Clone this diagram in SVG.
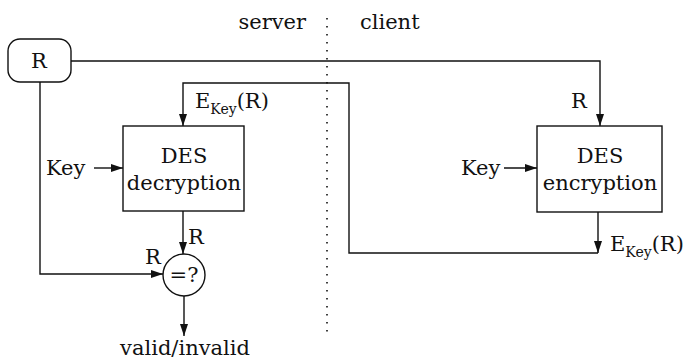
<svg xmlns="http://www.w3.org/2000/svg" width="688" height="361" viewBox="0 0 688 361" font-family="DejaVu Serif, Liberation Serif, Noto Serif, Times, serif">
  <style>
    .ln { fill: none; stroke: #111; stroke-width: 1.4; }
    .box { fill: #fff; stroke: #111; stroke-width: 1.4; }
    .t { font-family: "DejaVu Serif", "Liberation Serif", "Noto Serif", Times, serif; font-size: 21px; fill: #111; }
    .sub { font-size: 14px; }
    .mid { text-anchor: middle; }
  </style>
  <defs>
    <marker id="arrow" viewBox="0 0 12 8" refX="12" refY="4" markerWidth="12" markerHeight="8" markerUnits="userSpaceOnUse" orient="auto">
      <path d="M0,0 L12,4 L0,8 Z" fill="#111"/>
    </marker>
  </defs>

  <rect width="688" height="361" fill="#fff"/>

  <!-- server / client boundary -->
  <g id="boundary">
    <line x1="327" y1="18" x2="327" y2="334" stroke="#111" stroke-width="1.6" stroke-dasharray="1.6 6.4"/>
    <text class="t" x="306" y="29" text-anchor="end">server</text>
    <text class="t" x="360" y="29">client</text>
  </g>

  <!-- connectors -->
  <g id="connectors">
    <!-- R to client encryption -->
    <path class="ln" d="M71,61 H600 V126" marker-end="url(#arrow)"/>
    <!-- R to comparison -->
    <path class="ln" d="M40,82 V274 H163" marker-end="url(#arrow)"/>
    <!-- ciphertext back to server decryption -->
    <path class="ln" d="M598,212 V253" marker-end="url(#arrow)"/>
    <path class="ln" d="M598,253 H349 V83 H183 V126" marker-end="url(#arrow)"/>
    <!-- decryption result to comparison -->
    <path class="ln" d="M183,211 V254" marker-end="url(#arrow)"/>
    <!-- comparison output -->
    <path class="ln" d="M184,296 V336" marker-end="url(#arrow)"/>
    <!-- key inputs -->
    <path class="ln" d="M94,168 H123" marker-end="url(#arrow)"/>
    <path class="ln" d="M504,168 H537" marker-end="url(#arrow)"/>
  </g>

  <!-- connector labels -->
  <g id="labels">
    <text class="t" x="195" y="108">E<tspan class="sub" dy="6">Key</tspan><tspan dy="-6">(R)</tspan></text>
    <text class="t" x="610" y="251">E<tspan class="sub" dy="6">Key</tspan><tspan dy="-6">(R)</tspan></text>
    <text class="t" x="571" y="108">R</text>
    <text class="t" x="188" y="244">R</text>
    <text class="t" x="145" y="264">R</text>
    <text class="t" x="46" y="175">Key</text>
    <text class="t" x="461" y="175">Key</text>
    <text class="t mid" x="185" y="355">valid/invalid</text>
  </g>

  <g id="node-R">
    <rect class="box" x="8" y="39" width="63" height="43" rx="12" ry="12"/>
    <text class="t mid" x="39" y="68">R</text>
  </g>

  <g id="node-decryption">
    <rect class="box" x="123" y="126" width="121" height="85"/>
    <text class="t mid" x="184" y="163">DES</text>
    <text class="t mid" x="184" y="190">decryption</text>
  </g>

  <g id="node-encryption">
    <rect class="box" x="537" y="126" width="125" height="86"/>
    <text class="t mid" x="600" y="163">DES</text>
    <text class="t mid" x="600" y="190">encryption</text>
  </g>

  <g id="node-compare">
    <circle class="box" cx="184" cy="275" r="21"/>
    <text class="t mid" x="184" y="282">=?</text>
  </g>
</svg>
